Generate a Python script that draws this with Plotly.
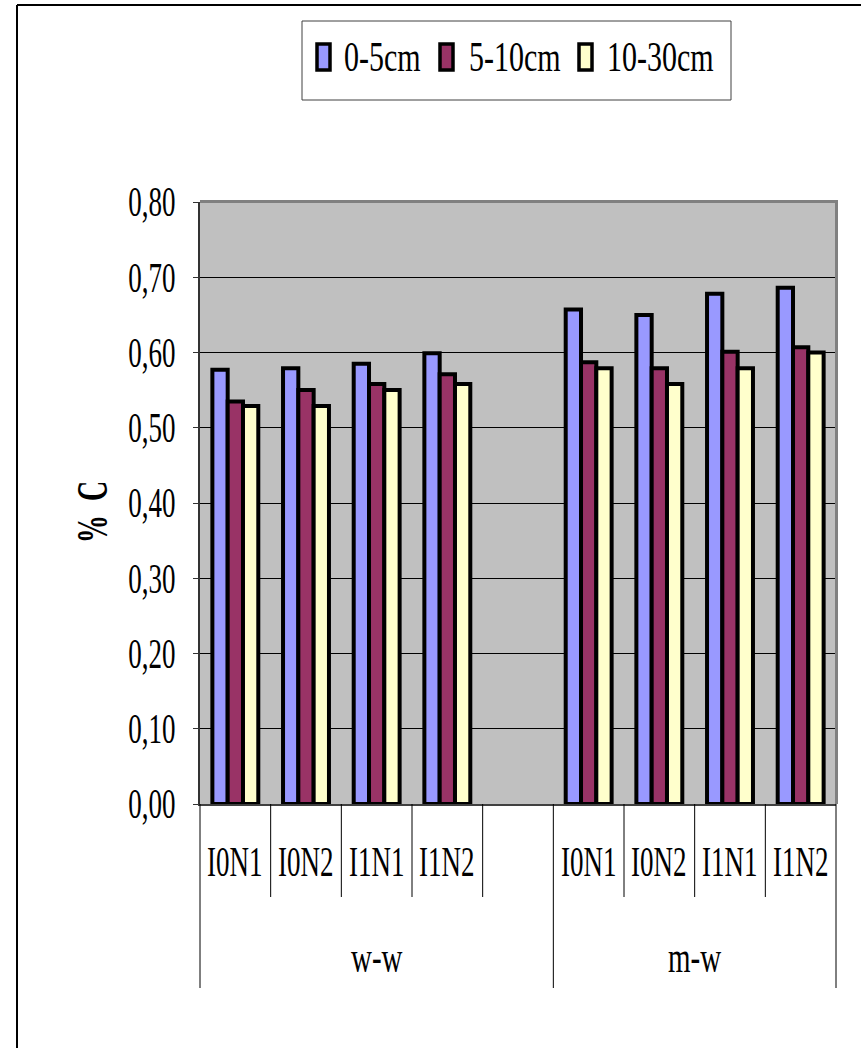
import plotly.graph_objects as go

# Soil organic carbon (% C) by depth, treatment and crop rotation
groups = ["w-w", "m-w"]
group_slots = [5, 4]          # w-w keeps one empty slot before m-w
treatments = ["I0N1", "I0N2", "I1N1", "I1N2"]
depths = ["0-5cm", "5-10cm", "10-30cm"]
colors = ["#9999FF", "#993366", "#FFFFCC"]

c_0_5 = [0.577, 0.579, 0.585, 0.599, 0.657, 0.650, 0.678, 0.686]
c_5_10 = [0.535, 0.550, 0.558, 0.571, 0.587, 0.579, 0.601, 0.607]
c_10_30 = [0.529, 0.529, 0.550, 0.558, 0.579, 0.558, 0.579, 0.600]
series = [c_0_5, c_5_10, c_10_30]

y_ticks = [0.0, 0.1, 0.2, 0.3, 0.4, 0.5, 0.6, 0.7, 0.8]

# slot position of every treatment inside its rotation group
positions, labels, group_centres = [], [], []
start = 0
for g, n in zip(groups, group_slots):
    for i, t in enumerate(treatments):
        positions.append(start + i)
        labels.append(t)
    group_centres.append(start + (n - 1) / 2)
    start += n
n_slots = start

W, H = 861, 1048
L, R, T, B = 200, 25, 202, 244
pw, ph = W - L - R, H - T - B


def px(X):
    return (X - L) / pw


def py(Y):
    return (T + ph - Y) / ph


fig = go.Figure()
for name, vals, col in zip(depths, series, colors):
    fig.add_trace(go.Bar(
        x=positions, y=vals, name=name,
        marker=dict(color=col, line=dict(color="#000000", width=4)),
        showlegend=False,
    ))

serif = "Liberation Serif, Times New Roman, serif"
shapes = []
annotations = []

# category separators below the axis
for k in range(n_slots + 1):
    long = k in (0, group_slots[0], n_slots)
    shapes.append(dict(type="line", xref="paper", yref="paper",
                       x0=k / n_slots, x1=k / n_slots,
                       y0=0, y1=py(988) if long else py(897),
                       line=dict(color="#000000", width=1)))

# plot-area shadow edges (top and right)
shapes.append(dict(type="line", xref="paper", yref="paper", x0=0, x1=1.0 + 1.5 / pw,
                   y0=py(201.5), y1=py(201.5), line=dict(color="#808080", width=3)))
shapes.append(dict(type="line", xref="paper", yref="paper", x0=px(836.5), x1=px(836.5),
                   y0=0, y1=py(200), line=dict(color="#808080", width=3)))

# outer chart frame
shapes.append(dict(type="line", xref="paper", yref="paper", x0=px(17), x1=px(17),
                   y0=py(1060), y1=py(5), line=dict(color="#000000", width=2)))
shapes.append(dict(type="line", xref="paper", yref="paper", x0=px(17), x1=px(870),
                   y0=py(5), y1=py(5), line=dict(color="#000000", width=2)))

# legend box, swatches and entries
shapes.append(dict(type="rect", xref="paper", yref="paper",
                   x0=px(302), x1=px(731), y0=py(100), y1=py(21),
                   line=dict(color="#404040", width=1), fillcolor="#FFFFFF"))
sw_x = [315, 438, 577]
txt_x = [342, 467, 605]
for name, col, sx, tx in zip(depths, colors, sw_x, txt_x):
    shapes.append(dict(type="rect", xref="paper", yref="paper",
                       x0=px(sx + 2), x1=px(sx + 15), y0=py(70), y1=py(44),
                       line=dict(color="#000000", width=3.5), fillcolor=col))
    annotations.append(dict(text=name, xref="paper", yref="paper",
                            x=px(tx), y=py(57), xanchor="left", yanchor="middle",
                            showarrow=False, font=dict(family=serif, size=30, color="#000000")))

# treatment labels and rotation labels
for p, lab in zip(positions, labels):
    annotations.append(dict(text=lab, xref="x", yref="paper", x=p, y=py(862),
                            xanchor="center", yanchor="middle", showarrow=False,
                            font=dict(family=serif, size=27, color="#000000")))
for g, c in zip(groups, group_centres):
    annotations.append(dict(text=g, xref="x", yref="paper", x=c, y=py(957),
                            xanchor="center", yanchor="middle", showarrow=False,
                            font=dict(family=serif, size=29, color="#000000")))

# y-axis title
annotations.append(dict(text="<b>%  C</b>", xref="paper", yref="paper",
                        x=px(93), y=py(512), textangle=-90,
                        xanchor="center", yanchor="middle", showarrow=False,
                        font=dict(family=serif, size=28, color="#000000")))

fig.update_layout(
    width=W, height=H,
    margin=dict(l=L, r=R, t=T, b=B, pad=0),
    paper_bgcolor="#FFFFFF",
    plot_bgcolor="#C0C0C0",
    barmode="group", bargap=0.35, bargroupgap=0,
    separators=", ",
    shapes=shapes,
    annotations=annotations,
    showlegend=False,
    font=dict(family=serif, color="#000000"),
)
fig.update_xaxes(range=[-0.5, n_slots - 0.5], showticklabels=False, ticks="",
                 showgrid=False, zeroline=False,
                 showline=True, linecolor="#404040", linewidth=2)
fig.update_yaxes(range=[0, 0.8], tickvals=y_ticks, tickformat=".2f",
                 ticks="outside", ticklen=5, tickcolor="#333333", tickwidth=1,
                 ticklabelstandoff=12,
                 tickfont=dict(family=serif, size=27, color="#000000"),
                 showgrid=True, gridcolor="#000000", gridwidth=1,
                 zeroline=False, showline=True, linecolor="#333333", linewidth=2)

# tall, narrow lettering: stretch every label vertically about its own centre
stretch_js = """
var gd = document.getElementById('{plot_id}');
var legendNames = ['0-5cm', '5-10cm', '10-30cm'];
gd.querySelectorAll('text').forEach(function (t) {
  var txt = (t.textContent || '').trim();
  if (!txt) return;
  var s = legendNames.indexOf(txt) >= 0 ? 1.4 : 1.55;
  var b = t.getBBox();
  var cx = b.x + b.width / 2, cy = b.y + b.height / 2;
  var tr = t.getAttribute('transform') || '';
  t.setAttribute('transform', tr + ' translate(' + cx + ',' + cy + ') scale(1,' + s + ') translate(' + (-cx) + ',' + (-cy) + ')');
});
"""

fig.write_html("out.html", post_script=stretch_js, config={"displayModeBar": False})
